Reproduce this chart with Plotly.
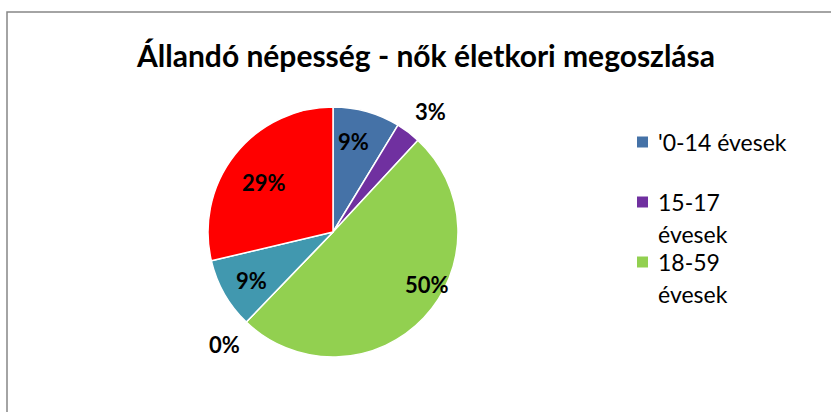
import math
import plotly.graph_objects as go

W, H = 831, 412

categories = ["'0-14 évesek", "15-17 évesek", "18-59 évesek", "60-64 évesek", "65-74 évesek", "75- évesek"]
values = [8.7, 3.2, 50.3, 0.0, 9.1, 28.7]
colors = ["#4572A7", "#7030A0", "#92D050", "#F79646", "#4198AF", "#FF0000"]

legend_labels = [["'0-14 évesek"], ["15-17", "évesek"], ["18-59", "évesek"]]
legend_colors = colors[:3]

title = "Állandó népesség - nők életkori megoszlása"
FONT = "Lato, Carlito, Calibri, sans-serif"

# label placement style: radial factor (fraction of radius) and angular shift (deg)
label_radius = [0.74, 1.24, 0.86, 1.25, 0.76, 0.68]
label_shift = [-3, 2, -14, 0, -1, -3]
legend_y_px = [142, 202, 262]
legend_line_gap = 32

def px_x(x):
    return x / W

def px_y(y):
    return 1 - y / H

cx, cy, r = 333, 232, 125

fig = go.Figure()
fig.add_trace(go.Pie(
    labels=categories,
    values=values,
    sort=False,
    direction="clockwise",
    rotation=0,
    marker=dict(colors=colors, line=dict(color="white", width=1.5)),
    textinfo="none",
    hoverinfo="label+percent",
    domain=dict(x=[px_x(cx - r), px_x(cx + r)], y=[px_y(cy + r), px_y(cy - r)]),
    showlegend=False,
))

shapes = [dict(type="rect", xref="paper", yref="paper",
               x0=px_x(7), x1=1.02, y0=-0.02, y1=px_y(12),
               line=dict(color="#868686", width=1.5), fillcolor="rgba(0,0,0,0)")]
annotations = [dict(text=f"<b>{title}</b>", x=px_x(426), y=px_y(55), xref="paper", yref="paper",
                    showarrow=False, xanchor="center", yanchor="middle",
                    font=dict(family=FONT, size=30, color="black"))]

total = sum(values)
cum = 0.0
for v, rf, sh in zip(values, label_radius, label_shift):
    mid = (cum + v / 2) / total * 360 + sh
    cum += v
    a = math.radians(mid)
    lx = cx + rf * r * math.sin(a)
    ly = cy - rf * r * math.cos(a)
    annotations.append(dict(text=f"<b>{round(v / total * 100)}%</b>", x=px_x(lx), y=px_y(ly),
                            xref="paper", yref="paper", showarrow=False,
                            xanchor="center", yanchor="middle",
                            font=dict(family=FONT, size=22, color="black")))

for lines, col, yy in zip(legend_labels, legend_colors, legend_y_px):
    shapes.append(dict(type="rect", xref="paper", yref="paper",
                       x0=px_x(637), x1=px_x(648), y0=px_y(yy + 5.5), y1=px_y(yy - 5.5),
                       fillcolor=col, line=dict(color=col, width=0)))
    for i, ln in enumerate(lines):
        annotations.append(dict(text=ln, x=px_x(656), y=px_y(yy + i * legend_line_gap),
                                xref="paper", yref="paper",
                                showarrow=False, xanchor="left", yanchor="middle", align="left",
                                font=dict(family=FONT, size=23, color="black")))

fig.update_layout(
    width=W, height=H,
    margin=dict(l=0, r=0, t=0, b=0),
    paper_bgcolor="white",
    plot_bgcolor="white",
    shapes=shapes,
    annotations=annotations,
    showlegend=False,
)

fig.write_html("out.html", config={"displayModeBar": False},
               post_script="document.body.style.margin='0';")
